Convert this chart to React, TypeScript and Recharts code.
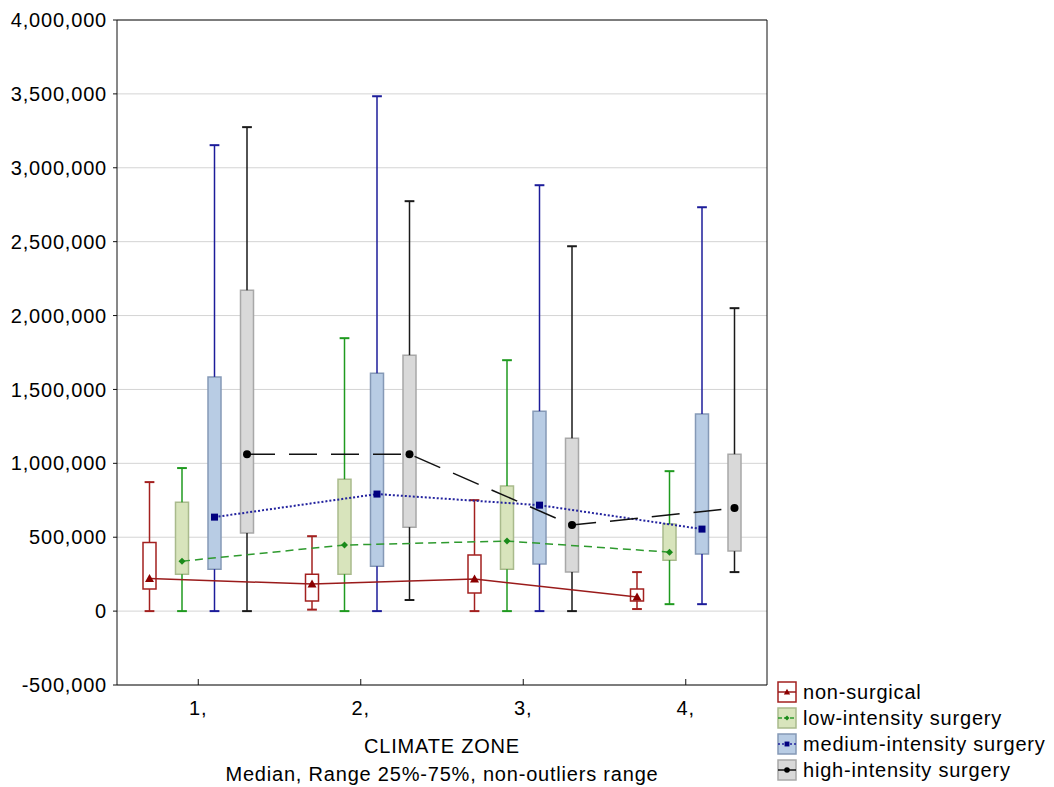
import React from 'react';
import {
  ComposedChart,
  XAxis,
  YAxis,
  CartesianGrid,
  Line,
  ReferenceArea,
  ReferenceLine,
  Legend,
  Label,
} from 'recharts';

// ---------- data ----------
const zones = [1, 2, 3, 4];
const zoneLabels = ['1,', '2,', '3,', '4,'];
const yTicks = [-500000, 0, 500000, 1000000, 1500000, 2000000, 2500000, 3000000, 3500000, 4000000];

const seriesNames = [
  'non-surgical',
  'low-intensity surgery',
  'medium-intensity surgery',
  'high-intensity surgery',
];

const nonSurgicalMedian = [220000, 183000, 217000, 95000];
const nonSurgicalQ1 = [149000, 68000, 122000, 68000];
const nonSurgicalQ3 = [465000, 250000, 380000, 149000];
const nonSurgicalMin = [0, 10000, 0, 14000];
const nonSurgicalMax = [873000, 507000, 751000, 264000];

const lowMedian = [338000, 447000, 474000, 399000];
const lowQ1 = [250000, 250000, 284000, 345000];
const lowQ3 = [737000, 893000, 846000, 589000];
const lowMin = [0, 0, 0, 47000];
const lowMax = [968000, 1847000, 1698000, 947000];

const mediumMedian = [636000, 792000, 717000, 555000];
const mediumQ1 = [284000, 304000, 318000, 386000];
const mediumQ3 = [1585000, 1610000, 1353000, 1333000];
const mediumMin = [0, 0, 0, 47000];
const mediumMax = [3153000, 3484000, 2882000, 2733000];

const highMedian = [1062000, 1062000, 582000, 697000];
const highQ1 = [528000, 568000, 264000, 406000];
const highQ3 = [2172000, 1732000, 1170000, 1062000];
const highMin = [0, 75000, 0, 264000];
const highMax = [3275000, 2774000, 2469000, 2050000];

// ---------- layout / style ----------
const FONT = '"Liberation Sans", Arial, Helvetica, sans-serif';
const offsets = [-0.3, -0.1, 0.1, 0.3];
const BOX_HALF = 0.04;
const CAP_HALF = 0.03;

type Style = {
  whisker: string;
  boxFill: string;
  boxStroke: string;
  line: string;
  dash?: string;
  lineWidth: number;
  marker: 'triangle' | 'diamond' | 'square' | 'circle';
  markerColor: string;
  legendDash?: string;
};

const styles: Style[] = [
  { whisker: '#a3201f', boxFill: '#ffffff', boxStroke: '#a3201f', line: '#9a1b1b', lineWidth: 1.5, marker: 'triangle', markerColor: '#8b0000' },
  { whisker: '#1f9a1f', boxFill: '#d8e4bc', boxStroke: '#a9ba8c', line: '#2e9a2e', dash: '8 5', lineWidth: 1.5, marker: 'diamond', markerColor: '#1a8a1a', legendDash: '4 2' },
  { whisker: '#1c1c9a', boxFill: '#b8cce4', boxStroke: '#8599b6', line: '#22229e', dash: '2 2', lineWidth: 2, marker: 'square', markerColor: '#00007f', legendDash: '2 2' },
  { whisker: '#1a1a1a', boxFill: '#d9d9d9', boxStroke: '#a8a8a8', line: '#111111', dash: '28 14', lineWidth: 1.5, marker: 'circle', markerColor: '#000000' },
];

const seriesStats = [
  { med: nonSurgicalMedian, q1: nonSurgicalQ1, q3: nonSurgicalQ3, min: nonSurgicalMin, max: nonSurgicalMax },
  { med: lowMedian, q1: lowQ1, q3: lowQ3, min: lowMin, max: lowMax },
  { med: mediumMedian, q1: mediumQ1, q3: mediumQ3, min: mediumMin, max: mediumMax },
  { med: highMedian, q1: highQ1, q3: highQ3, min: highMin, max: highMax },
];

const series = seriesNames.map((name, i) => ({
  name,
  style: styles[i],
  points: zones.map((z, j) => ({
    x: z + offsets[i],
    med: seriesStats[i].med[j],
    q1: seriesStats[i].q1[j],
    q3: seriesStats[i].q3[j],
    min: seriesStats[i].min[j],
    max: seriesStats[i].max[j],
  })),
}));

function drawMarker(kind: Style['marker'], color: string, cx: number, cy: number, key?: any, s = 1) {
  if (cx == null || cy == null || isNaN(cx) || isNaN(cy)) return <g key={key} />;
  switch (kind) {
    case 'triangle':
      return <path key={key} d={`M${cx},${cy - 4.5 * s}L${cx + 4.5 * s},${cy + 3.5 * s}L${cx - 4.5 * s},${cy + 3.5 * s}Z`} fill={color} />;
    case 'diamond':
      return <path key={key} d={`M${cx},${cy - 3.5 * s}L${cx + 3.5 * s},${cy}L${cx},${cy + 3.5 * s}L${cx - 3.5 * s},${cy}Z`} fill={color} />;
    case 'square':
      return <rect key={key} x={cx - 3.5 * s} y={cy - 3.5 * s} width={7 * s} height={7 * s} fill={color} />;
    default:
      return <circle key={key} cx={cx} cy={cy} r={4 * s} fill={color} />;
  }
}

const renderLegend = () => (
  <div style={{ fontFamily: FONT, fontSize: 20, letterSpacing: 0.8, color: '#000', lineHeight: '26px' }}>
    {series.map((s) => (
      <div key={s.name} style={{ display: 'flex', alignItems: 'center', height: 26, whiteSpace: 'nowrap' }}>
        <svg width={20} height={22} style={{ marginRight: 6, flex: 'none' }}>
          <rect x={1} y={1} width={18} height={20} fill={s.style.boxFill} stroke={s.style.boxStroke} strokeWidth={1.5} />
          <line x1={1} x2={19} y1={11} y2={11} stroke={s.style.line} strokeWidth={1.5} strokeDasharray={s.style.legendDash} />
          {drawMarker(s.style.marker, s.style.markerColor, 10, 11, undefined, 0.7)}
        </svg>
        <span>{s.name}</span>
      </div>
    ))}
  </div>
);

const tickStyle = { fontSize: 20, fill: '#000', fontFamily: FONT };

export default function App() {
  return (
    <div style={{ width: 1046, height: 779, overflow: 'visible' }}>
      <style>{`html,body{overflow:hidden} .recharts-wrapper{overflow:visible !important} .recharts-surface{overflow:visible} .recharts-wrapper text{letter-spacing:0.8px}`}</style>
      <ComposedChart
        width={1046}
        height={779}
        margin={{ top: 2, right: 277, bottom: 0, left: 0 }}
        style={{ fontFamily: FONT }}
      >
        <CartesianGrid vertical={false} stroke="#d4d4d4" strokeWidth={1} />
        <XAxis
          dataKey="x"
          type="number"
          domain={[0.5, 4.5]}
          ticks={zones}
          interval={0}
          tickFormatter={(v: number) => zoneLabels[zones.indexOf(v)] ?? ''}
          height={102}
          tickSize={-6}
          tickMargin={22}
          tick={tickStyle}
          axisLine={{ stroke: '#111' }}
          tickLine={{ stroke: '#111' }}
          allowDataOverflow
        >
          <Label value="CLIMATE ZONE" position="insideTop" offset={54} fill="#000" fontSize={20} fontFamily={FONT} />
          <Label value="Median, Range 25%-75%, non-outliers range" position="insideTop" offset={82} fill="#000" fontSize={20} fontFamily={FONT} />
        </XAxis>
        <XAxis
          xAxisId="top"
          orientation="top"
          type="number"
          domain={[0.5, 4.5]}
          height={10}
          tick={false}
          tickLine={false}
          axisLine={{ stroke: '#111' }}
          allowDataOverflow
        />
        <YAxis
          type="number"
          domain={[-500000, 4000000]}
          ticks={yTicks}
          interval={0}
          width={109}
          tickSize={4}
          tickMargin={6}
          tick={tickStyle}
          tickFormatter={(v: number) => v.toLocaleString('en-US')}
          axisLine={{ stroke: '#111' }}
          tickLine={{ stroke: '#111' }}
          allowDataOverflow
        />
        <YAxis
          yAxisId="right"
          orientation="right"
          type="number"
          domain={[-500000, 4000000]}
          ticks={yTicks}
          interval={0}
          width={10}
          tickSize={-4}
          tick={false}
          axisLine={{ stroke: '#111' }}
          tickLine={{ stroke: '#111' }}
          allowDataOverflow
        />

        {series.flatMap((s, i) =>
          s.points.flatMap((p, j) => [
            <ReferenceLine key={`wu-${i}-${j}`} segment={[{ x: p.x, y: p.q3 }, { x: p.x, y: p.max }]} stroke={s.style.whisker} strokeWidth={1.5} ifOverflow="visible" />,
            <ReferenceLine key={`wl-${i}-${j}`} segment={[{ x: p.x, y: p.min }, { x: p.x, y: p.q1 }]} stroke={s.style.whisker} strokeWidth={1.5} ifOverflow="visible" />,
            <ReferenceLine key={`cu-${i}-${j}`} segment={[{ x: p.x - CAP_HALF, y: p.max }, { x: p.x + CAP_HALF, y: p.max }]} stroke={s.style.whisker} strokeWidth={2} ifOverflow="visible" />,
            <ReferenceLine key={`cl-${i}-${j}`} segment={[{ x: p.x - CAP_HALF, y: p.min }, { x: p.x + CAP_HALF, y: p.min }]} stroke={s.style.whisker} strokeWidth={2} ifOverflow="visible" />,
          ])
        )}

        {series.flatMap((s, i) =>
          s.points.map((p, j) => (
            <ReferenceArea
              key={`box-${i}-${j}`}
              x1={p.x - BOX_HALF}
              x2={p.x + BOX_HALF}
              y1={p.q1}
              y2={p.q3}
              fill={s.style.boxFill}
              fillOpacity={1}
              stroke={s.style.boxStroke}
              strokeWidth={1.5}
              ifOverflow="visible"
            />
          ))
        )}

        {series.map((s) => (
          <Line
            key={s.name}
            name={s.name}
            data={s.points}
            dataKey="med"
            type="linear"
            stroke={s.style.line}
            strokeWidth={s.style.lineWidth}
            strokeDasharray={s.style.dash}
            dot={(props: any) => drawMarker(s.style.marker, s.style.markerColor, props.cx, props.cy, props.key ?? `${s.name}-${props.index}`)}
            activeDot={false}
            isAnimationActive={false}
          />
        ))}

        <Legend
          content={renderLegend}
          layout="vertical"
          align="center"
          verticalAlign="middle"
          wrapperStyle={{ left: 769, top: 671, width: 277, height: 110 }}
        />
      </ComposedChart>
    </div>
  );
}
